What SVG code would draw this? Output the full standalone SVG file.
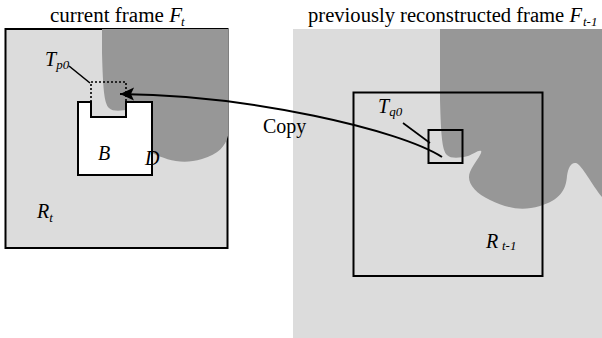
<svg xmlns="http://www.w3.org/2000/svg" width="602" height="338" viewBox="0 0 602 338">
<style>
text{font-family:"Liberation Serif","Times New Roman",serif;fill:#000}
.t{font-size:20px}
.i{font-style:italic}
.s{font-size:13px;font-style:italic}
.frame{fill:none;stroke:#000;stroke-width:2}
.lead{fill:none;stroke:#000;stroke-width:1.6}
.dark{fill:#979797}
</style>
<defs>
<path id="blob" d="M440,20 L440,100 C441,135 442,150 447,155 C451,159 460,158 468,156 C474,154 478,150 481,151 C483,153 474,163 470,172 C466,182 474,192 490,200 C505,207 520,212 540,206 C560,200 566,190 567,176 C568,168 571,162 576,163 C582,165 592,185 602,197 L610,200 L610,20 Z"/>
<clipPath id="clipL"><rect x="5" y="29" width="223" height="219"/></clipPath>
<clipPath id="clipR"><rect x="293" y="29" width="309" height="309"/></clipPath>
<marker id="ah" markerUnits="userSpaceOnUse" markerWidth="18" markerHeight="16" refX="0" refY="0" viewBox="-16 -8 18 16" orient="auto">
<path d="M0,0 L-14,-6.5 L-11,0 L-14,6.5 Z" fill="#000"/>
</marker>
</defs>

<g id="current-frame">
<rect x="5.5" y="29" width="222" height="219" fill="#dcdcdc"/>
<rect class="frame" x="5.5" y="29" width="222" height="219"/>
<g clip-path="url(#clipL)"><use href="#blob" class="dark" transform="translate(-338,-47)"/></g>
<text class="t" x="50" y="22" textLength="132" lengthAdjust="spacingAndGlyphs">current frame <tspan class="i">F</tspan></text>
<text class="s" x="181" y="26">t</text>
<text class="t i" x="37" y="218">R<tspan class="s" dy="4">t</tspan></text>
</g>

<g id="block-B">
<path d="M78,102 L91,102 L91,117 L126,117 L126,102 L152,102 L152,175 L78,175 Z" fill="#fff" stroke="#000" stroke-width="2"/>
<text class="t i" x="98" y="160">B</text>
<text class="t i" x="145" y="165">D</text>
</g>

<g id="template-Tp0">
<path d="M91,102 L91,82 L126,82 L126,102" fill="none" stroke="#000" stroke-width="1.6" stroke-dasharray="2,2"/>
<line class="lead" x1="69" y1="66" x2="90" y2="83"/>
<text class="t i" x="45" y="66">T<tspan class="s" dy="3">p0</tspan></text>
</g>

<g id="previous-frame">
<rect x="293" y="29" width="309" height="309" fill="#dcdcdc"/>
<g clip-path="url(#clipR)"><use href="#blob" class="dark"/></g>
<text class="t" x="308" y="22" textLength="274" lengthAdjust="spacingAndGlyphs">previously reconstructed frame <tspan class="i">F</tspan></text>
<text class="s" x="583" y="26">t-1</text>
</g>

<g id="search-region">
<rect class="frame" x="353.5" y="92.5" width="189" height="183.5"/>
<text class="t i" x="486" y="248">R</text>
<text class="s" x="502" y="250">t-1</text>
</g>

<g id="template-Tq0">
<rect class="frame" x="428.5" y="130" width="34" height="33"/>
<line class="lead" x1="403" y1="123" x2="430" y2="143"/>
<text class="t i" x="378" y="113">T<tspan class="s" dy="3">q0</tspan></text>
</g>

<g id="connectors">
<path d="M442,157 C400,130 250,95 120,94" fill="none" stroke="#000" stroke-width="2" marker-end="url(#ah)"/>
<text class="t" x="263" y="133">Copy</text>
</g>
</svg>
